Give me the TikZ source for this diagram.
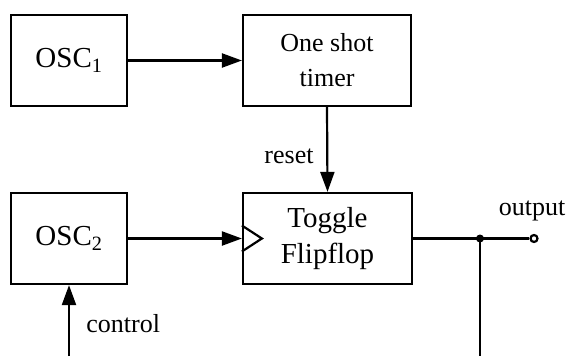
\documentclass[tikz,border=0pt]{standalone}
\usepackage{fontspec}
\setmainfont{Liberation Serif}
\usetikzlibrary{arrows.meta}

\begin{document}
\begin{tikzpicture}[x=1pt, y=-1pt, line width=2.2pt,
    bloc/.style={draw, rectangle, align=center, inner sep=0pt, minimum height=91pt},
    fleche/.style={-{Triangle[length=20pt, width=14pt]}},
    etiq/.style={font=\fontsize{26}{30}\selectfont}]
    \useasboundingbox (0,0) rectangle (570,356);
    % the four blocks
    \node[bloc, minimum width=116pt, font=\fontsize{29}{35}\selectfont] (osc1) at (69,60.5) {OSC\textsubscript{1}};
    \node[bloc, minimum width=168pt, font=\fontsize{26}{35}\selectfont] (timer) at (327,60.5) {One shot\\timer};
    \node[bloc, minimum width=116pt, font=\fontsize{29}{35}\selectfont] (osc2) at (69,238.5) {OSC\textsubscript{2}};
    \node[bloc, minimum width=169pt, font=\fontsize{29}{36}\selectfont] (toggle) at (327.5,238.5) {Toggle\\Flipflop};
    % clock input
    \draw ([yshift=13pt]toggle.west) -- ([xshift=20pt]toggle.west) -- ([yshift=-13pt]toggle.west);
    \draw[fleche] (osc1.east) -- (timer.west);
    \draw[fleche] (timer.south) -- (toggle.north);
    \node[etiq, anchor=base east] at (318,163) {reset};
    \draw[fleche] (osc2.east) -- (toggle.west);
    % output with branch going down
    \coordinate (noeud) at (480,238.5);
    \coordinate (bas) at (480,356);
    \node[draw, circle, fill=white, inner sep=0pt, minimum size=7pt] (sortie) at (534,238.5) {};
    \draw (toggle.east) -- (noeud) -- (sortie.west);
    \draw (noeud) -- (bas);
    \fill (noeud) circle (4pt);
    \node[etiq, anchor=base] at (532,215) {output};
    % control input
    \coordinate (ctrl) at (69,356);
    \draw[fleche] (ctrl) -- (osc2.south);
    \node[etiq, anchor=base west] at (82,332) {control};
\end{tikzpicture}
\end{document}
